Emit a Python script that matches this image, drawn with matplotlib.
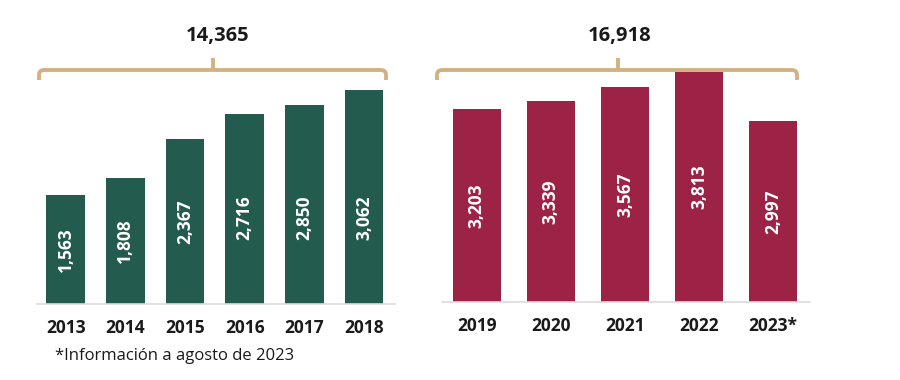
import matplotlib
matplotlib.use("Agg")
import matplotlib.pyplot as plt
from matplotlib.path import Path
from matplotlib.patches import PathPatch

# data
years_a = ["2013", "2014", "2015", "2016", "2017", "2018"]
values_a = [1563, 1808, 2367, 2716, 2850, 3062]
years_b = ["2019", "2020", "2021", "2022", "2023*"]
values_b = [3203, 3339, 3567, 3813, 2997]
total_a = "14,365"
total_b = "16,918"
footnote = "*Información a agosto de 2023"

GREEN = "#235B4E"
MAROON = "#9C2246"
GOLD = "#D2B283"
TEXT = "#1a1a1a"
W, H = 900, 380

plt.rcParams["font.family"] = ["Open Sans", "DejaVu Sans"]


def fx(x):
    return x / W


def fy(y):
    return 1 - y / H


def add_axes(left, right, top, bottom):
    return fig.add_axes([fx(left), fy(bottom), (right - left) / W, (bottom - top) / H])


def brace(x0, x1, xc, y_h, y_end, y_top, r=5):
    # bracket drawn in pixel coords, converted to figure fraction
    pts = [
        (x0, y_end), (x0, y_h + r), (x0, y_h), (x0 + r, y_h),
        (x1 - r, y_h), (x1, y_h), (x1, y_h + r), (x1, y_end),
        (xc, y_h), (xc, y_top),
    ]
    codes = [
        Path.MOVETO, Path.LINETO, Path.CURVE3, Path.CURVE3,
        Path.LINETO, Path.CURVE3, Path.CURVE3, Path.LINETO,
        Path.MOVETO, Path.LINETO,
    ]
    verts = [(fx(x), fy(y)) for x, y in pts]
    fig.add_artist(PathPatch(Path(verts, codes), fill=False, edgecolor=GOLD,
                             linewidth=2.8, capstyle="butt", joinstyle="round",
                             transform=fig.transFigure))


def panel(ax, labels, values, color, ymax, cap, x_lo, x_hi):
    x = list(range(len(values)))
    ax.bar(x, values, width=0.65, color=color, zorder=2)
    for xi, v in zip(x, values):
        ax.text(xi, min(v / 2, cap), f"{v:,}", rotation=90, ha="center", va="center",
                color="white", fontsize=12.5, fontweight="bold")
    ax.set_xlim(x_lo, x_hi)
    ax.set_ylim(0, ymax)
    ax.set_xticks(x, labels, fontsize=12.5, fontweight="bold", color=TEXT)
    ax.tick_params(axis="x", length=0, pad=11)
    ax.set_yticks([])
    for s in ["top", "right", "left"]:
        ax.spines[s].set_visible(False)
    ax.spines["bottom"].set_color("#dcdcdc")
    ax.spines["bottom"].set_linewidth(1.2)
    ax.patch.set_alpha(0)


fig = plt.figure(figsize=(9, 3.8), dpi=100)

ax1 = add_axes(37, 395, 20, 304)
panel(ax1, years_a, values_a, GREEN, 4064, 1230, -0.48, 5.52)

ax2 = add_axes(442, 810, 20, 302)
panel(ax2, years_b, values_b, MAROON, 4675, 99999, -0.47, 4.5)

brace(39, 386, 213, 70, 80, 58)
brace(437, 797, 618, 70, 80, 58)

fig.text(fx(218), fy(36), total_a, ha="center", va="center", fontsize=14.5,
         fontweight="bold", color=TEXT)
fig.text(fx(620), fy(36), total_b, ha="center", va="center", fontsize=14.5,
         fontweight="bold", color=TEXT)
fig.text(fx(55), fy(356), footnote, ha="left", va="center", fontsize=12, color=TEXT)

fig.savefig("out.png", dpi=100, facecolor="white")
